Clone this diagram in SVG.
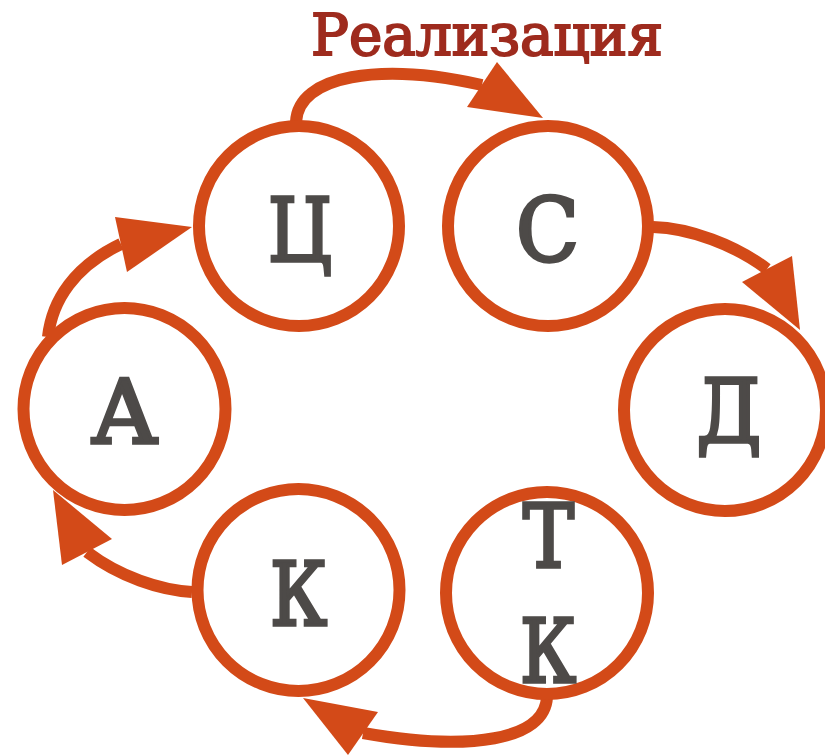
<svg xmlns="http://www.w3.org/2000/svg" width="825" height="756" viewBox="0 0 825 756">
<style>
.node circle{fill:#fff;stroke:#D34A18;stroke-width:12}
.lbl{font-family:"DejaVu Serif",serif;font-size:88px;fill:#4D4A48;stroke:#4D4A48;stroke-width:3.5;stroke-linejoin:miter;text-anchor:middle}
.edge{fill:none;stroke:#D34A18;stroke-width:12}
.head{fill:#D34A18}
.title{font-family:"DejaVu Serif",serif;font-size:57px;fill:#9E2B1E;stroke:#9E2B1E;stroke-width:2}
</style>
<rect width="825" height="756" fill="#fff"/>
<text class="title" x="311" y="55" textLength="352" lengthAdjust="spacingAndGlyphs">Реализация</text>
<g id="connectors">
<path class="edge" d="M296,122 C298,75 380,62 482,85"/>
<polygon class="head" points="497,62 467,107 543,118"/>
<path class="edge" d="M653,227 C690,228 735,245 767,269"/>
<polygon class="head" points="792,256 742,282 800,330"/>
<path class="edge" d="M547,697 C545,740 470,752 363,733"/>
<polygon class="head" points="378,712 348,755 303,698"/>
<path class="edge" d="M192,592 C160,590 120,577 87,552"/>
<polygon class="head" points="112,539 62,565 53,490"/>
<path class="edge" d="M48,337 C52,300 75,266 121,244"/>
<polygon class="head" points="115,217 127,272 192,227"/>
</g>
<g id="node-ts" class="node"><circle cx="299" cy="226" r="100"/><text class="lbl" x="300" y="261" textLength="64" lengthAdjust="spacingAndGlyphs">Ц</text></g>
<g id="node-s" class="node"><circle cx="548" cy="226" r="100"/><text class="lbl" x="547.5" y="261" textLength="63" lengthAdjust="spacingAndGlyphs">С</text></g>
<g id="node-d" class="node"><circle cx="725" cy="410" r="101"/><text class="lbl" x="729" y="442" textLength="65" lengthAdjust="spacingAndGlyphs">Д</text></g>
<g id="node-a" class="node"><circle cx="124.5" cy="409" r="101"/><text class="lbl" x="124.5" y="443" textLength="67" lengthAdjust="spacingAndGlyphs">А</text></g>
<g id="node-k" class="node"><circle cx="298.5" cy="590" r="101"/><text class="lbl" x="298.5" y="625" textLength="57" lengthAdjust="spacingAndGlyphs">К</text></g>
<g id="node-tk" class="node"><circle cx="547" cy="593" r="101"/><text class="lbl" x="548.5" y="567" textLength="51" lengthAdjust="spacingAndGlyphs">Т</text><text class="lbl" x="548" y="682" textLength="56" lengthAdjust="spacingAndGlyphs">К</text></g>
</svg>
